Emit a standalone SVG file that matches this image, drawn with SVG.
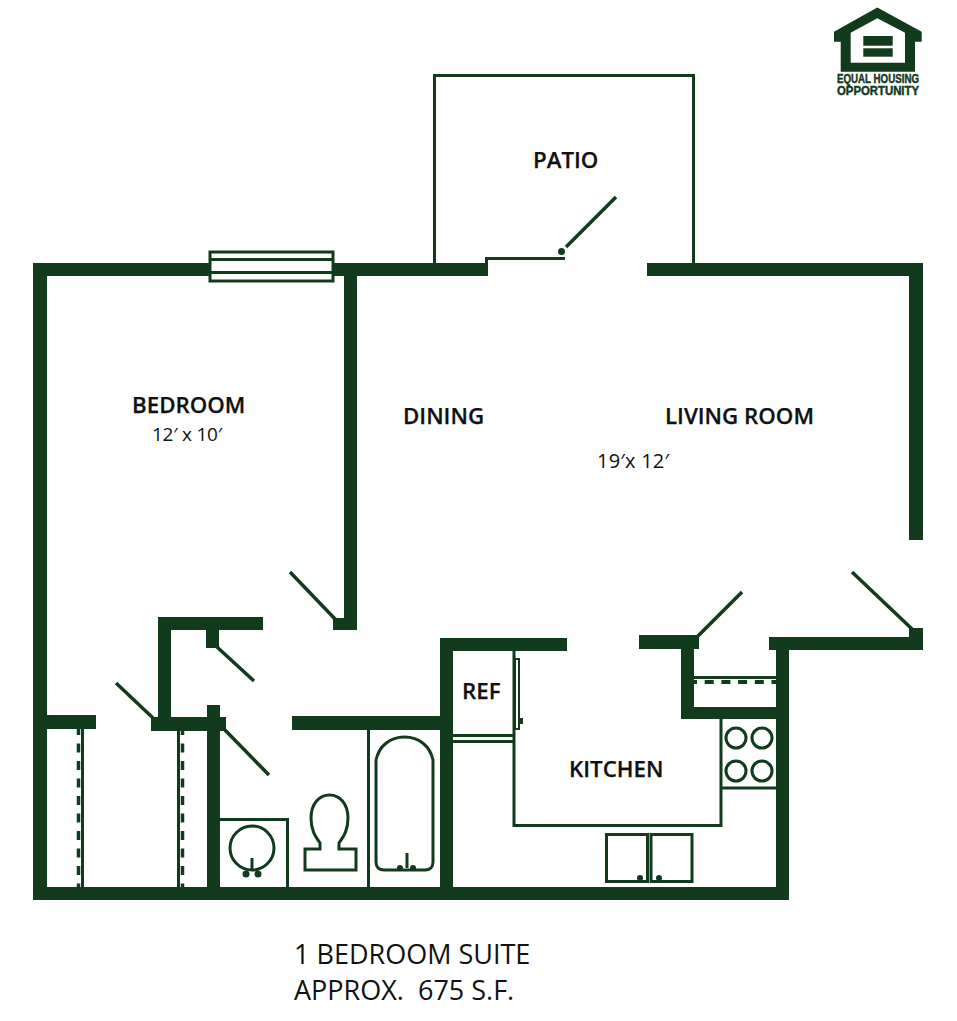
<svg xmlns="http://www.w3.org/2000/svg" width="957" height="1021" viewBox="0 0 957 1021">
<style>
.w{fill:#123a1c}
.l{fill:none;stroke:#123a1c;stroke-width:3}
.d{fill:none;stroke:#123a1c;stroke-width:3.5}
.h{fill:none;stroke:#123a1c;stroke-width:3.5;stroke-dasharray:9 7.700}
.v{fill:none;stroke:#123a1c;stroke-width:3.500;stroke-dasharray:9 8.500;stroke-dashoffset:3}
.f{fill:#123a1c}
text{font-family:"Open Sans","Noto Sans","Liberation Sans",sans-serif;fill:#111;white-space:pre}
.b{font-size:22.300px;font-weight:600;stroke:#111;stroke-width:.25}
.s{font-size:19px}
.s2{font-size:20px}
.t{font-size:27px}
.e{font-family:"Liberation Sans",sans-serif;font-size:12px;font-weight:700;fill:#123a1c;stroke:#123a1c;stroke-width:.45}
</style>
<rect width="957" height="1021" fill="#fff"/>
<g id="walls" class="w">
<rect x="33" y="263" width="176" height="13"/>
<rect x="334" y="263" width="154" height="13"/>
<rect x="647" y="263" width="276" height="13"/>
<rect x="33" y="263" width="14" height="637"/>
<rect x="33" y="887" width="756" height="13"/>
<rect x="909" y="263" width="14" height="277"/>
<rect x="344" y="263" width="13" height="367"/>
<rect x="333" y="618" width="24" height="12"/>
<rect x="158" y="617" width="105" height="13"/>
<rect x="158" y="617" width="13" height="110"/>
<rect x="206" y="625" width="13" height="23"/>
<rect x="151" y="717" width="75" height="14"/>
<rect x="207" y="705" width="13" height="185"/>
<rect x="47" y="715" width="49" height="14"/>
<rect x="292" y="716" width="150" height="14"/>
<rect x="440" y="638" width="13" height="255"/>
<rect x="440" y="638" width="127" height="13"/>
<rect x="639" y="635" width="60" height="14"/>
<rect x="681" y="635" width="13" height="84"/>
<rect x="681" y="707" width="97" height="12"/>
<rect x="769" y="637" width="154" height="13"/>
<rect x="909" y="628" width="14" height="22"/>
<rect x="776" y="637" width="13" height="263"/>
</g>
<g id="window" class="l">
<rect x="210" y="252" width="123" height="29"/>
<path d="M210 259.500H333M210 272.500H333"/>
</g>
<g id="patio">
<path class="l" d="M434.500 263V75.500H693.500V263"/>
<path class="l" d="M486.500 263V258.500H565"/>
<circle class="f" cx="561.500" cy="251.500" r="3.500"/>
<path class="d" d="M566 247L616 197"/>
</g>
<g id="doors" class="d">
<path d="M290 572L336 620"/>
<path d="M217 647L254 681"/>
<path d="M116 683L153 718"/>
<path d="M224 729L269 775"/>
<path d="M697 637L742 592"/>
<path d="M852 572L912 629"/>
</g>
<g id="closets">
<path class="l" d="M82.500 729V887"/>
<path class="v" d="M78.500 729V887"/>
<path class="l" d="M178.500 731V887"/>
<path class="v" d="M182.500 729V887"/>
<path class="l" d="M694 677.500H776"/>
<path class="h" d="M694 682H776" style="stroke-width:4;stroke-dashoffset:6"/>
</g>
<g id="bathroom">
<path class="l" d="M220 819.500H287.500V887"/>
<circle class="l" cx="252" cy="848" r="22"/>
<path class="l" d="M252 858V871"/>
<circle class="f" cx="246" cy="874" r="3.500"/>
<circle class="f" cx="258" cy="874" r="3.500"/>
<path class="l" d="M305 870V849H320V843C315 836 311 830 311 818C311 804 319 795 329.500 795C340 795 348 804 348 818C348 830 344 836 339 843V849H356V870Z"/>
<path class="l" d="M368.500 730V887"/>
<path class="l" d="M376 760C379 746 390 737 404.500 737C419 737 430 746 433 760V862C433 867 430 870 425 870H384C379 870 376 867 376 862Z"/>
<path class="l" d="M407 853V868"/>
<circle class="f" cx="400" cy="868" r="3"/>
<circle class="f" cx="413" cy="868" r="3"/>
</g>
<g id="kitchen">
<path class="l" d="M514 651V825.500H721V719"/>
<path class="l" d="M453 735.500H514M453 741.500H514"/>
<rect class="l" x="515" y="659" width="4" height="70" style="stroke-width:2"/>
<rect class="f" x="518" y="718" width="5" height="6"/>
<path class="l" d="M721 788H776"/>
<circle class="l" cx="736" cy="738" r="10"/>
<circle class="l" cx="762" cy="738" r="10"/>
<circle class="l" cx="736" cy="771" r="10"/>
<circle class="l" cx="762" cy="771" r="10"/>
<rect class="l" x="606.500" y="834.500" width="41" height="47"/>
<rect class="l" x="651" y="834.500" width="41" height="47"/>
<circle class="f" cx="640" cy="878" r="3"/>
<circle class="f" cx="659" cy="878" r="3"/>
</g>
<g id="logo">
<path class="f" fill-rule="evenodd" d="M877.300 7.500L921.700 31.700V41.700H915V71.700H840.700V41.700H834V31.700ZM877.300 18.300L850.700 32.700V62.700H905V32.700Z"/>
<rect class="f" x="863.300" y="36" width="29.400" height="9.700"/>
<rect class="f" x="863.300" y="48.300" width="29.400" height="8.400"/>
<text class="e" x="837" y="82.700" textLength="82" lengthAdjust="spacingAndGlyphs">EQUAL HOUSING</text>
<text class="e" x="837" y="95" textLength="82" lengthAdjust="spacingAndGlyphs">OPPORTUNITY</text>
</g>
<g id="labels">
<text class="b" x="533" y="168">PATIO</text>
<text class="b" x="132" y="413">BEDROOM</text>
<text class="s" x="152" y="441" textLength="70">12′ x 10′</text>
<text class="b" x="403" y="424">DINING</text>
<text class="b" x="665" y="424">LIVING ROOM</text>
<text class="s2" x="597" y="468" textLength="72">19′x 12′</text>
<text class="b" x="462" y="699">REF</text>
<text class="b" x="569" y="777">KITCHEN</text>
<text class="t" x="294" y="964">1 BEDROOM SUITE</text>
<text class="t" x="294" y="1000">APPROX.  675 S.F.</text>
</g>
</svg>
